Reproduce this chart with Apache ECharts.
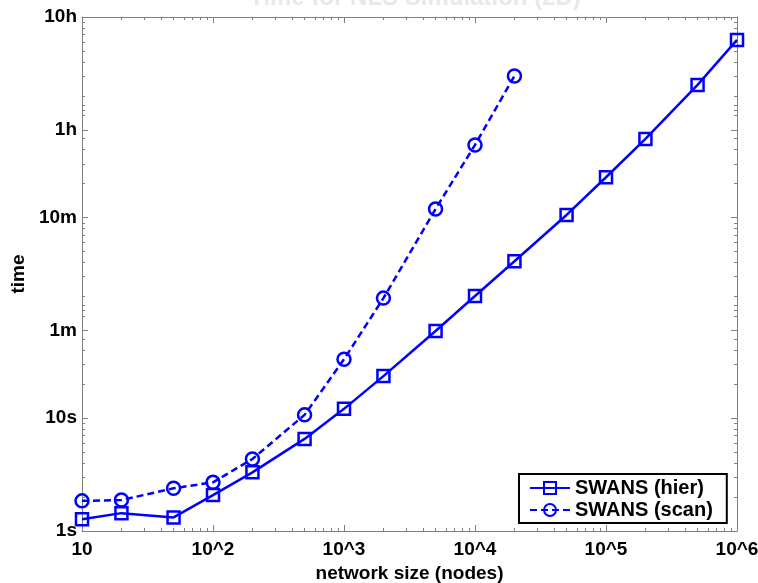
<!DOCTYPE html>
<html>
<head>
<meta charset="utf-8">
<script src="https://cdn.jsdelivr.net/npm/echarts@6/dist/echarts.min.js"></script>
<style>
html,body{margin:0;padding:0;background:#fff;}
#chart{width:758px;height:583px;}
</style>
</head>
<body>
<div id="chart"></div>
<script>
// ---- data ----
var titleText = 'Time for NLS Simulation (2D)';
var xName = 'network size (nodes)';
var yName = 'time';
var seriesNames = ['SWANS (hier)', 'SWANS (scan)'];

var hierNodes = [10, 20, 50, 100, 200, 500, 1000, 2000, 5000, 10000, 20000, 50000, 100000, 200000, 500000, 1000000];
var hierSeconds = [1.27, 1.44, 1.32, 2.08, 3.31, 6.55, 12.1, 23.6, 59.3, 121, 246, 633, 1367, 2986, 8995, 22540];

var scanNodes = [10, 20, 50, 100, 200, 500, 1000, 2000, 5000, 10000, 20000];
var scanSeconds = [1.85, 1.88, 2.39, 2.70, 4.35, 10.7, 33.3, 116, 716, 2643, 10814];

var xMajorTicks = [10, 100, 1000, 10000, 100000, 1000000];
var xMajorLabels = ['10', '10^2', '10^3', '10^4', '10^5', '10^6'];
var xMinorTicks = [20,30,40,50,60,70,80,90, 200,300,400,500,600,700,800,900,
  2000,3000,4000,5000,6000,7000,8000,9000, 20000,30000,40000,50000,60000,70000,80000,90000,
  200000,300000,400000,500000,600000,700000,800000,900000];

var yMajorTicks = [1, 10, 60, 600, 3600, 36000];
var yMajorLabels = ['1s', '10s', '1m', '10m', '1h', '10h'];
var yMinorTicks = [2,3,4,5,6,7,8,9, 20,30,40,50, 80,90,100, 120,180,240,300,360,420,480,540,
  1200,1800,2400,3000, 4800,5400,6000, 7200,10800,14400,18000,21600,25200,28800,32400];

// ---- chart ----
function zip(a, b) { return a.map(function (v, i) { return [v, b[i]]; }); }
function labelFor(ticks, labels) {
  return function (v) {
    for (var i = 0; i < ticks.length; i++) {
      if (Math.abs(ticks[i] - v) / ticks[i] < 1e-6) return labels[i];
    }
    return '';
  };
}

var FONT = 'Liberation Sans, Arial, Helvetica, sans-serif';
var AX = '#808080';
var BLUE = '#0000ff';

function xAxisDef(pos, ticks, len, showLine, showLabel) {
  var ax = {
    type: 'log', logBase: 10, min: 10, max: 1000000, position: pos,
    splitLine: { show: false }, minorTick: { show: false },
    axisLine: { show: showLine, lineStyle: { color: AX, width: 1 } },
    axisTick: { show: true, inside: true, length: len, customValues: ticks, lineStyle: { color: AX, width: 1 } },
    axisLabel: { show: showLabel }
  };
  if (showLabel) {
    ax.axisLabel = {
      show: true, customValues: xMajorTicks, formatter: labelFor(xMajorTicks, xMajorLabels),
      fontSize: 19, fontWeight: 'bold', color: '#000', fontFamily: FONT, margin: 9
    };
    ax.name = xName;
    ax.nameLocation = 'middle';
    ax.nameGap = 31;
    ax.nameTextStyle = { fontSize: 19, fontWeight: 'bold', color: '#000', fontFamily: FONT };
  }
  return ax;
}
function yAxisDef(pos, ticks, len, showLine, showLabel) {
  var ax = {
    type: 'log', logBase: 10, min: 1, max: 36000, position: pos,
    splitLine: { show: false }, minorTick: { show: false },
    axisLine: { show: showLine, lineStyle: { color: AX, width: 1 } },
    axisTick: { show: true, inside: true, length: len, customValues: ticks, lineStyle: { color: AX, width: 1 } },
    axisLabel: { show: showLabel }
  };
  if (showLabel) {
    ax.axisLabel = {
      show: true, customValues: yMajorTicks, formatter: labelFor(yMajorTicks, yMajorLabels),
      fontSize: 19, fontWeight: 'bold', color: '#000', fontFamily: FONT, margin: 5
    };
    ax.name = yName;
    ax.nameLocation = 'middle';
    ax.nameGap = 50;
    ax.nameTextStyle = { fontSize: 19, fontWeight: 'bold', color: '#000', fontFamily: FONT };
  }
  return ax;
}

var chart = echarts.init(document.getElementById('chart'), null, { renderer: 'canvas' });
chart.setOption({
  animation: false,
  backgroundColor: '#fff',
  title: {
    text: titleText, left: 410, textAlign: 'center', top: -19,
    textStyle: { fontSize: 24, fontWeight: 'bold', color: '#e8e8e8', fontFamily: FONT }
  },
  grid: { left: 82, right: 21, top: 17, bottom: 52, containLabel: false, outerBoundsMode: 'none' },
  xAxis: [
    xAxisDef('bottom', xMajorTicks, 6, true, true),
    xAxisDef('bottom', xMinorTicks, 3, false, false),
    xAxisDef('top', xMajorTicks, 6, true, false),
    xAxisDef('top', xMinorTicks, 3, false, false)
  ],
  yAxis: [
    yAxisDef('left', yMajorTicks, 6, true, true),
    yAxisDef('left', yMinorTicks, 3, false, false),
    yAxisDef('right', yMajorTicks, 6, true, false),
    yAxisDef('right', yMinorTicks, 3, false, false)
  ],
  legend: {
    orient: 'vertical', left: 519, top: 474,
    padding: [4, 14, 3, 10], itemGap: 2,
    itemWidth: 40, itemHeight: 15,
    borderColor: '#000', borderWidth: 2, backgroundColor: '#fff',
    textStyle: { fontSize: 20, fontWeight: 'bold', color: '#000', fontFamily: FONT },
    data: seriesNames
  },
  series: [
    {
      name: seriesNames[0], type: 'line', xAxisIndex: 0, yAxisIndex: 0,
      data: zip(hierNodes, hierSeconds),
      symbol: 'rect', symbolSize: 12, showAllSymbol: true,
      lineStyle: { color: BLUE, width: 2.5, type: 'solid' },
      itemStyle: { color: 'rgba(0,0,0,0)', borderColor: BLUE, borderWidth: 2.5 },
      emphasis: { disabled: true }
    },
    {
      name: seriesNames[1], type: 'line', xAxisIndex: 0, yAxisIndex: 0,
      data: zip(scanNodes, scanSeconds),
      symbol: 'circle', symbolSize: 13, showAllSymbol: true,
      lineStyle: { color: BLUE, width: 2.5, type: [7, 4] },
      itemStyle: { color: 'rgba(0,0,0,0)', borderColor: BLUE, borderWidth: 2.5 },
      emphasis: { disabled: true }
    }
  ]
});
</script>
</body>
</html>
